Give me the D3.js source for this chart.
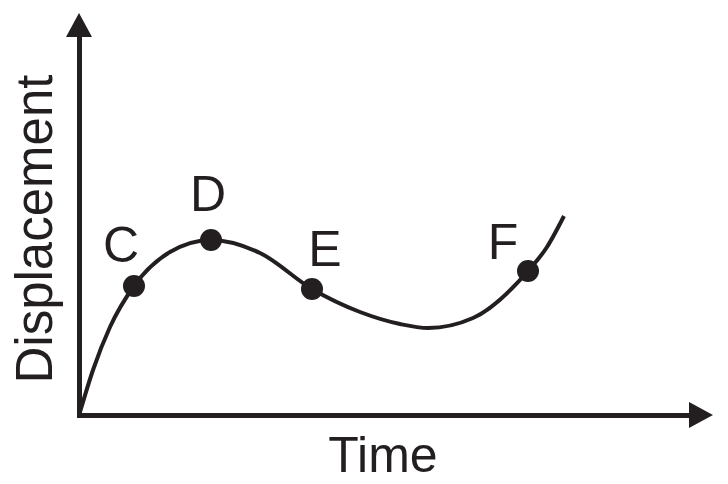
<!DOCTYPE html>
<html>
<head>
<meta charset="utf-8">
<script src="https://cdn.jsdelivr.net/npm/d3@7"></script>
<style>
  body { margin: 0; background: #fff; }
  svg { display: block; }
  text { font-family: "Liberation Sans", Arial, sans-serif; fill: #231f20; }
</style>
</head>
<body>
<svg></svg>
<script>
// curve samples: time vs displacement (arbitrary units)
var curveTime = [0.02, 0.28, 0.62, 1.1, 1.82, 2.64, 3.62, 4.66, 5.62, 6.42, 6.98, 7.88, 8.98, 9.36, 9.7];
var curveDisp = [0.06, 0.9, 1.76, 2.58, 3.26, 3.5, 3.24, 2.52, 2.06, 1.82, 1.74, 1.94, 2.88, 3.36, 3.98];

// labelled points on the curve
var pointLabels = ['C', 'D', 'E', 'F'];
var pointTime = [1.1, 2.64, 4.66, 8.98];
var pointDisp = [2.58, 3.5, 2.52, 2.88];

var xTitle = 'Time';
var yTitle = 'Displacement';

var ink = '#231f20';

let svg = d3.select('svg').attr('width', 728).attr('height', 484);

let x = d3.scaleLinear().domain([0, 12.2]).range([79, 689]);
let y = d3.scaleLinear().domain([0, 7.56]).range([415, 37]);

// axes (no ticks, just the heavy lines)

svg
	.append('g')
	.attr('transform', 'translate(0,' + y(0) + ')')
	.call(d3.axisBottom(x).tickValues([]).tickSizeOuter(0))
	.call((g) => g.select('.domain').attr('stroke', ink).attr('stroke-width', 5).attr('stroke-linecap', 'square'));

svg
	.append('g')
	.attr('transform', 'translate(' + x(0) + ',0)')
	.call(d3.axisLeft(y).tickValues([]).tickSizeOuter(0))
	.call((g) => g.select('.domain').attr('stroke', ink).attr('stroke-width', 5).attr('stroke-linecap', 'square'));

// arrow heads

let xEnd = x.range()[1];
let yEnd = y.range()[1];

svg
	.append('path')
	.attr('d', 'M' + xEnd + ',' + (y(0) - 13) + 'L' + (xEnd + 24) + ',' + y(0) + 'L' + xEnd + ',' + (y(0) + 13) + 'Z')
	.attr('fill', ink);

svg
	.append('path')
	.attr('d', 'M' + (x(0) - 13) + ',' + yEnd + 'L' + x(0) + ',' + (yEnd - 24) + 'L' + (x(0) + 13) + ',' + yEnd + 'Z')
	.attr('fill', ink);

// the curve

let line = d3.line().x((d) => x(d[0])).y((d) => y(d[1])).curve(d3.curveMonotoneX);

svg
	.append('path')
	.datum(curveTime.map((t, i) => [t, curveDisp[i]]))
	.attr('d', line)
	.attr('fill', 'none')
	.attr('stroke', ink)
	.attr('stroke-width', 4);

// points + letters

var labelOffset = { C: [-13, -24], D: [-3, -29], E: [13, -23], F: [-25, -12] };

let pts = pointLabels.map((l, i) => ({ label: l, t: pointTime[i], d: pointDisp[i] }));

svg
	.selectAll('.pt')
	.data(pts)
	.enter()
	.append('circle')
	.attr('class', 'pt')
	.attr('cx', (d) => x(d.t))
	.attr('cy', (d) => y(d.d))
	.attr('r', 11)
	.attr('fill', ink);

svg
	.selectAll('.ptLabel')
	.data(pts)
	.enter()
	.append('text')
	.attr('class', 'ptLabel')
	.attr('x', (d) => x(d.t) + labelOffset[d.label][0])
	.attr('y', (d) => y(d.d) + labelOffset[d.label][1])
	.attr('text-anchor', 'middle')
	.style('font-size', '50px')
	.text((d) => d.label);

// axis titles

svg
	.append('text')
	.attr('x', 383)
	.attr('y', 472)
	.attr('text-anchor', 'middle')
	.style('font-size', '50px')
	.text(xTitle);

svg
	.append('text')
	.attr('transform', 'translate(52,229) rotate(-90)')
	.attr('text-anchor', 'middle')
	.style('font-size', '51px')
	.text(yTitle);
</script>
</body>
</html>
